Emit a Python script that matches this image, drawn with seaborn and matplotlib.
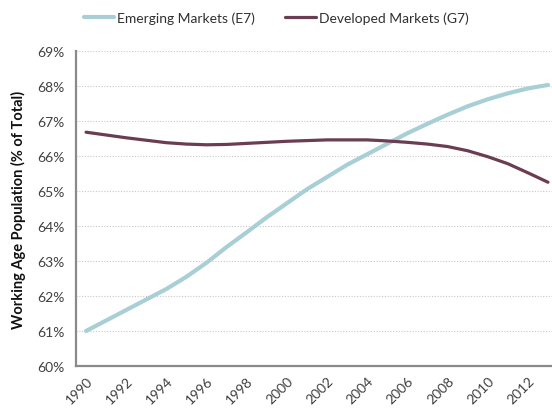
import numpy as np
import pandas as pd
import matplotlib

matplotlib.use("Agg")
import matplotlib.pyplot as plt
import seaborn as sns
from matplotlib.ticker import FuncFormatter

# Working age population share (% of total)
years = list(range(1990, 2014))
emerging_e7 = [61.00, 61.30, 61.60, 61.90, 62.20, 62.55, 62.95, 63.40,
               63.82, 64.25, 64.65, 65.05, 65.40, 65.75, 66.05, 66.35,
               66.65, 66.92, 67.18, 67.42, 67.62, 67.79, 67.93, 68.03]
developed_g7 = [66.68, 66.60, 66.52, 66.45, 66.38, 66.34, 66.32, 66.33,
                66.36, 66.39, 66.42, 66.44, 66.46, 66.46, 66.46, 66.43,
                66.39, 66.34, 66.27, 66.15, 65.98, 65.78, 65.52, 65.25]
series_names = ["Emerging Markets (E7)", "Developed Markets (G7)"]
colors = {"Emerging Markets (E7)": "#a8cfd6",
          "Developed Markets (G7)": "#6a3d52"}
widths = {"Emerging Markets (E7)": 3.0,
          "Developed Markets (G7)": 2.3}

df = pd.DataFrame({
    "year": years * 2,
    "value": emerging_e7 + developed_g7,
    "series": [series_names[0]] * len(years) + [series_names[1]] * len(years),
})

sns.set_style("white")
plt.rcParams["font.family"] = ["Lato", "DejaVu Sans"]

fig = plt.figure(figsize=(5.52, 4.10), dpi=100)
ax = fig.add_axes([0.1377, 0.1049, 0.8623, 0.7683])

for name in series_names:
    sns.lineplot(data=df[df["series"] == name], x="year", y="value",
                 color=colors[name], linewidth=widths[name], label=name,
                 ax=ax, legend=False)

ax.set_xlim(1989.5, 2013.2)
ax.set_ylim(60, 69)
ax.set_yticks(range(60, 70))
ax.yaxis.set_major_formatter(FuncFormatter(lambda v, _: f"{v:.0f}%"))
ax.set_xticks(years[::2])
ax.set_xticklabels([str(y) for y in years[::2]], rotation=45, ha="right",
                   rotation_mode="anchor")
ax.tick_params(axis="both", length=0, labelsize=10, colors="#404040")
ax.tick_params(axis="x", pad=6)
ax.tick_params(axis="y", pad=8)

ax.grid(axis="y", linestyle=(0, (1, 1.5)), color="#c8c8c8", linewidth=0.8)
ax.set_axisbelow(True)
for side in ("top", "right"):
    ax.spines[side].set_visible(False)
for side in ("left", "bottom"):
    ax.spines[side].set_color("#8a8a8a")
    ax.spines[side].set_linewidth(1.6)

ax.set_xlabel("")
ax.set_ylabel("Working Age Population (% of Total)", fontsize=10.5,
              fontweight="bold", color="#111111", labelpad=8)

handles = [plt.Line2D([], [], color=colors[n], linewidth=widths[n])
           for n in series_names]
fig.legend(handles, series_names, loc="upper center",
           bbox_to_anchor=(0.5, 1.0), ncol=2, frameon=False, fontsize=10,
           handlelength=2.2, handletextpad=0.2, columnspacing=2.2,
           labelcolor="#303030")

fig.savefig("out.png", dpi=100)
plt.close(fig)
